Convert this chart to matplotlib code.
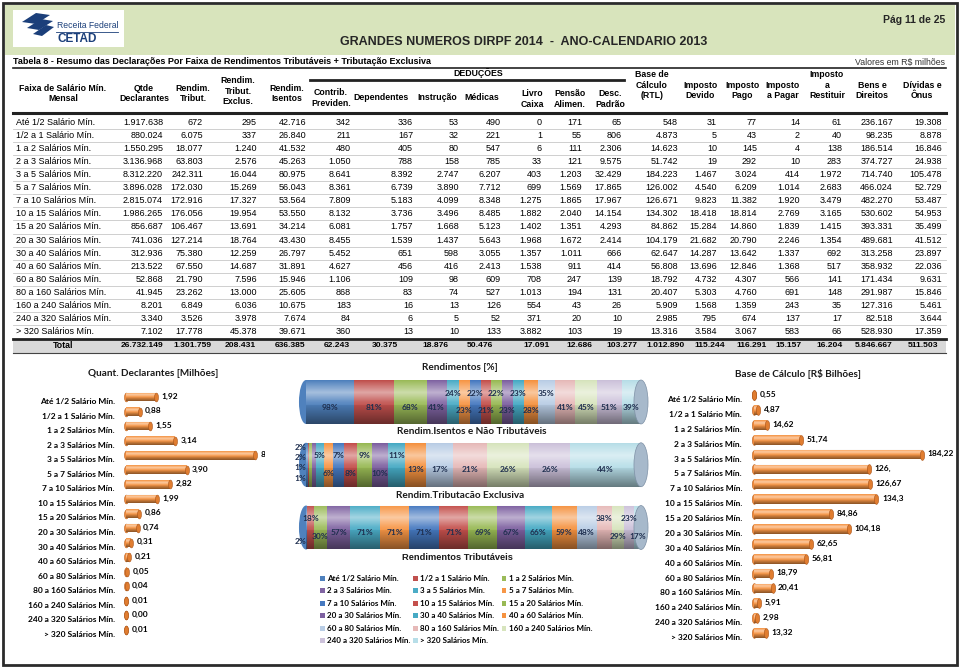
import numpy as np
import matplotlib
matplotlib.use("Agg")
import matplotlib.pyplot as plt
from matplotlib.patches import Rectangle, Ellipse, Polygon
from matplotlib.path import Path
from matplotlib.markers import MarkerStyle
import matplotlib.transforms as mtransforms

plt.rcParams["font.family"] = ["Liberation Sans", "DejaVu Sans"]
CHART_FONT = ["Lato", "DejaVu Sans"]

# ---- dados (Tabela 8) ----
faixas = ["Até 1/2 Salário Mín.", "1/2 a 1 Salário Mín.", "1 a 2 Salários Mín.", "2 a 3 Salários Mín.",
          "3 a 5 Salários Mín.", "5 a 7 Salários Mín.", "7 a 10 Salários Mín.", "10 a 15 Salários Mín.",
          "15 a 20 Salários Mín.", "20 a 30 Salários Mín.", "30 a 40 Salários Mín.", "40 a 60 Salários Mín.",
          "60 a 80 Salários Mín.", "80 a 160 Salários Mín.", "160 a 240 Salários Mín.",
          "240 a 320 Salários Mín.", "> 320 Salários Mín."]

qtde = [1917638, 880024, 1550295, 3136968, 8312220, 3896028, 2815074, 1986265, 856687, 741036, 312936, 213522, 52868, 41945, 8201, 3340, 7102]
rend_trib = [672, 6075, 18077, 63803, 242311, 172030, 172916, 176056, 106467, 127214, 75380, 67550, 21790, 23262, 6849, 3526, 17778]
rend_exclus = [295, 337, 1240, 2576, 16044, 15269, 17327, 19954, 13691, 18764, 12259, 14687, 7596, 13000, 6036, 3978, 45378]
rend_isentos = [42716, 26840, 41532, 45263, 80975, 56043, 53564, 53550, 34214, 43430, 26797, 31891, 15946, 25605, 10675, 7674, 39671]
contrib_prev = [342, 211, 480, 1050, 8641, 8361, 7809, 8132, 6081, 8455, 5452, 4627, 1106, 868, 183, 84, 360]
dependentes = [336, 167, 405, 788, 8392, 6739, 5183, 3736, 1757, 1539, 651, 456, 109, 83, 16, 6, 13]
instrucao = [53, 32, 80, 158, 2747, 3890, 4099, 3496, 1668, 1437, 598, 416, 98, 74, 13, 5, 10]
medicas = [490, 221, 547, 785, 6207, 7712, 8348, 8485, 5123, 5643, 3055, 2413, 609, 527, 126, 52, 133]
livro_caixa = [0, 1, 6, 33, 403, 699, 1275, 1882, 1402, 1968, 1357, 1538, 708, 1013, 554, 371, 3882]
pensao = [171, 55, 111, 121, 1203, 1569, 1865, 2040, 1351, 1672, 1011, 911, 247, 194, 43, 20, 103]
desc_padrao = [65, 806, 2306, 9575, 32429, 17865, 17967, 14154, 4293, 2414, 666, 414, 139, 131, 26, 10, 19]
base_calculo = [548, 4873, 14623, 51742, 184223, 126002, 126671, 134302, 84862, 104179, 62647, 56808, 18792, 20407, 5909, 2985, 13316]
imp_devido = [31, 5, 10, 19, 1467, 4540, 9823, 18418, 15284, 21682, 14287, 13696, 4732, 5303, 1568, 795, 3584]
imp_pago = [77, 43, 145, 292, 3024, 6209, 11382, 18814, 14860, 20790, 13642, 12846, 4307, 4760, 1359, 674, 3067]
imp_pagar = [14, 2, 4, 10, 414, 1014, 1920, 2769, 1839, 2246, 1337, 1368, 566, 691, 243, 137, 583]
imp_restituir = [61, 40, 138, 283, 1972, 2683, 3479, 3165, 1415, 1354, 692, 517, 141, 148, 35, 17, 66]
bens = [236167, 98235, 186514, 374727, 714740, 466024, 482270, 530602, 393331, 489681, 313258, 358932, 171434, 291987, 127316, 82518, 528930]
dividas = [19308, 8878, 16846, 24938, 105478, 52729, 53487, 54953, 35499, 41512, 23897, 22036, 9631, 15846, 5461, 3644, 17359]
totais = [26732149, 1301759, 208431, 636385, 62243, 30375, 18876, 50476, 17091, 12686, 103277, 1012890,
          115244, 116291, 15157, 16204, 5846667, 511503]

# percentuais mostrados nos cilindros
pct_isentos = [98, 81, 68, 41, 24, 23, 22, 21, 22, 23, 23, 28, 35, 41, 45, 51, 39]
pct_exclus = [1, 1, 2, 2, 5, 6, 7, 8, 9, 10, 11, 13, 17, 21, 26, 26, 44]
pct_trib = [2, 18, 30, 57, 71, 71, 71, 71, 69, 67, 66, 59, 48, 38, 29, 23, 17]

colunas = [qtde, rend_trib, rend_exclus, rend_isentos, contrib_prev, dependentes, instrucao, medicas,
           livro_caixa, pensao, desc_padrao, base_calculo, imp_devido, imp_pago, imp_pagar,
           imp_restituir, bens, dividas]

cores = ["#4f81bd", "#c0504d", "#9bbb59", "#8064a2", "#4bacc6", "#f79646",
         "#4679c0", "#c4504c", "#98b954", "#7d60a0", "#46aac4", "#f59240",
         "#b9cde5", "#e6b9b8", "#d7e4bd", "#ccc1da", "#b7dee8"]


def br(v):
    return f"{v:,}".replace(",", ".")


def rect(left, top, right, bottom):
    return [left / 960, 1 - bottom / 668, (right - left) / 960, (bottom - top) / 668]


def shade(ax, x0, x1, yc, h):
    t = np.linspace(0, 1, 60)
    light = np.clip(1 - np.abs(t - 0.28) / 0.28, 0, 1) * 0.5
    dark = np.clip((t - 0.5) / 0.5, 0, 1) * 0.45
    rgba = np.zeros((60, 1, 4))
    rgba[:, 0, :3] = np.where(light[:, None] > 0.001, 1.0, 0.0)
    rgba[:, 0, 3] = light + dark
    ax.imshow(rgba, extent=(x0, x1, yc + h / 2, yc - h / 2), aspect="auto",
              interpolation="bilinear", zorder=2.5)


fig = plt.figure(figsize=(9.6, 6.68), dpi=100)
page = fig.add_axes([0, 0, 1, 1])
page.set_xlim(0, 960)
page.set_ylim(668, 0)
page.axis("off")

# ---- cabeçalho ----
page.add_patch(Rectangle((5, 5), 950, 50, fc="#d8e4bc", ec="none"))
page.add_patch(Rectangle((3, 3), 954, 662, fill=False, lw=2, ec="#2b2b2b"))
page.add_patch(Rectangle((13, 10), 111, 37, fc="white", ec="none"))
navy = "#1b3f7a"
for pts in [[(22, 22), (36, 13), (50, 15), (36, 24)],
            [(27, 28), (41, 19), (53, 21), (39, 30)],
            [(33, 34), (46, 25), (54, 27), (42, 36)]]:
    page.add_patch(Polygon(pts, closed=True, fc=navy, ec="none"))
page.text(57, 25, "Receita Federal", fontsize=6.2, color=navy, va="center")
page.plot([56, 118], [31.5, 31.5], color=navy, lw=0.6)
page.text(57, 39, "CETAD", fontsize=8.5, color=navy, fontweight="bold", va="center")
page.text(524, 42, "GRANDES NUMEROS DIRPF 2014  -  ANO-CALENDARIO 2013", fontsize=9,
          fontweight="bold", color="#262626", ha="center", va="center")
page.text(945, 20, "Pág 11 de 25", fontsize=7.5, fontweight="bold", color="#262626",
          ha="right", va="center")

# ---- tabela ----
page.text(13, 62, "Tabela 8 - Resumo das Declarações Por Faixa de Rendimentos Tributáveis + Tributação Exclusiva",
          fontsize=6.5, fontweight="bold", va="center")
page.text(945, 62, "Valores em R$ milhões", fontsize=6.3, color="#333333", ha="right", va="center")

cabecalhos = [("Faixa de Salário Mín.\nMensal", 63, 93.5), ("Qtde\nDeclarantes", 144, 93.5),
              ("Rendim.\nTribut.", 193, 93.5), ("Rendim.\nTribut.\nExclus.", 238, 91),
              ("Rendim.\nIsentos", 287, 93.5), ("Contrib.\nPreviden.", 331, 98),
              ("Dependentes", 381, 98), ("Instrução", 437, 98), ("Médicas", 482, 98),
              ("Livro\nCaixa", 532, 99), ("Pensão\nAlimen.", 570, 99), ("Desc.\nPadrão", 610, 99),
              ("Base de\nCálculo\n(RTL)", 652, 85), ("Imposto\nDevido", 700, 90.5),
              ("Imposto\nPago", 742, 90.5), ("Imposto\na Pagar", 783, 90.5),
              ("Imposto\na\nRestituir", 827, 85), ("Bens e\nDireitos", 872, 90.5),
              ("Dívidas e\nÔnus", 922, 90.5)]
for txt, xc, yc in cabecalhos:
    page.text(xc, yc, txt, fontsize=6.3, fontweight="bold", ha="center", va="center",
              linespacing=1.25)
page.text(478, 73.5, "DEDUÇÕES", fontsize=6.3, fontweight="bold", ha="center", va="center")
page.plot([13, 946], [67.5, 67.5], color="#222222", lw=1.2)
page.plot([310, 624], [79.5, 79.5], color="#222222", lw=2)
page.plot([13, 946], [113, 113], color="#222222", lw=2.2)

col_right = [163, 203, 257, 306, 351, 413, 459, 501, 542, 582, 622, 678, 717, 757, 800, 842, 893, 942]
tot_right = [163, 212, 256, 305, 350, 398, 448, 493, 550, 592, 637, 685, 725, 767, 802, 843, 893, 938]
y0, dy = 122.5, 13.06
for i, faixa in enumerate(faixas):
    y = y0 + i * dy
    page.text(16, y, faixa, fontsize=6.5, ha="left", va="center")
    for c, col in enumerate(colunas):
        page.text(col_right[c], y, br(col[i]), fontsize=6.5, ha="right", va="center")
    if i < len(faixas) - 1:
        page.plot([13, 946], [y + dy / 2, y + dy / 2], color="#c8c8c8", lw=0.6)

page.add_patch(Rectangle((13, 339), 933, 13.5, fc="#d9d9d9", ec="none"))
page.plot([13, 946], [339, 339], color="#222222", lw=2)
page.plot([13, 946], [352.5, 352.5], color="#444444", lw=0.8)
page.text(63, 345.5, "Total", fontsize=6.3, fontweight="bold", ha="center", va="center")
for c, v in enumerate(totais):
    page.text(tot_right[c], 345.5, br(v), fontsize=6.1, fontweight="bold", ha="right", va="center")

# ---- graficos de barras ----
theta = np.linspace(0, 2 * np.pi, 40)
cap = MarkerStyle(Path(np.column_stack([0.45 * np.cos(theta), np.sin(theta)]), closed=True))


def barras(ax, vals, labels, xmax, h, capsize, pad, fmt, titulo, tx, ty, clip):
    ypos = np.arange(len(vals))
    ax.barh(ypos, vals, height=h, color="#f79646", edgecolor="none", zorder=2)
    for y, v in zip(ypos, vals):
        shade(ax, 0, v, y, h)
    ax.scatter(np.zeros(len(vals)), ypos, marker=cap, s=capsize, color="#f08a3c",
               edgecolor="#b75e1c", linewidth=0.4, zorder=1, clip_on=False)
    ax.scatter(vals, ypos, marker=cap, s=capsize, color="#e07d30",
               edgecolor="#a9541a", linewidth=0.4, zorder=3, clip_on=False)
    for y, v in zip(ypos, vals):
        ax.annotate(fmt(v), (v, y), xytext=(4, 0.5), textcoords="offset points",
                    fontsize=6, fontweight="bold", family=CHART_FONT, va="center",
                    ha="left", annotation_clip=False, clip_on=clip)
    ax.set_xlim(0, xmax)
    ax.set_ylim(len(vals) - 0.5, -0.5)
    ax.set_yticks(ypos)
    ax.set_yticklabels(labels, fontsize=6, fontweight="bold", family=CHART_FONT)
    ax.tick_params(axis="y", length=0, pad=pad)
    ax.set_xticks([])
    for s in ax.spines.values():
        s.set_visible(False)
    ax.patch.set_alpha(0)
    off = mtransforms.ScaledTranslation(0, -4 / 100, fig.dpi_scale_trans)
    for lab in ax.get_yticklabels():
        lab.set_transform(lab.get_transform() + off)
    page.text(tx, ty, titulo, fontsize=7.2, fontweight="bold", family=CHART_FONT,
              ha="center", va="center", color="#1a1a1a")


axL = fig.add_axes(rect(126, 389.7, 265, 637.3))
barras(axL, np.array(qtde) / 1e6, faixas, (265 - 126) / 15.55, 0.6, 40, 8,
       lambda v: f"{v:.2f}".replace(".", ","), "Quant. Declarantes [Milhões]", 153, 373, True)

axR = fig.add_axes(rect(754, 387.6, 950, 640.5))
barras(axR, np.array(base_calculo) / 1000, faixas, (950 - 754) / 0.912, 0.65, 49, 8.6,
       lambda v: f"{v:.2f}".rstrip("0").replace(".", ","), "Base de Cálculo [R$ Bilhões]", 798, 374,
       False)

# ---- cilindros empilhados ----
axM = fig.add_axes(rect(306, 370.6, 641, 558.9))
linhas = [pct_isentos, pct_exclus, pct_trib]
larguras = [np.array(p) / np.sum(p) * 100 for p in linhas]
for k in range(len(faixas)):
    lefts = [np.sum(w[:k]) for w in larguras]
    axM.barh([0, 1, 2], [w[k] for w in larguras], left=lefts, height=0.7, color=cores[k],
             edgecolor="none", label=faixas[k], zorder=2)
tiny_y = [0.22, 0.05, -0.12, -0.28]
for r, (pcts, w) in enumerate(zip(linhas, larguras)):
    axM.add_patch(Ellipse((0, r), 4.2, 0.7, fc=cores[0], ec="none", zorder=1, clip_on=False))
    shade(axM, 0, 100, r, 0.7)
    axM.add_patch(Ellipse((100, r), 4.2, 0.7, fc="#a7b9cb", ec="#7d90a5", lw=0.5, zorder=3,
                          clip_on=False))
    left, flip, nt = 0.0, 1, 0
    for k, p in enumerate(pcts):
        xc = left + w[k] / 2
        if w[k] < 2:
            xc, yo = -1.6, tiny_y[nt % 4]
            nt += 1
        elif w[k] < 5.5:
            yo = -0.14 * flip
            flip = -flip
        else:
            yo = 0.08
        axM.text(xc, r + yo, f"{p}%", fontsize=6, fontweight="bold", family=CHART_FONT,
                 color="#1f2f4f", ha="center", va="center", zorder=4, clip_on=False)
        left += w[k]
axM.set_xlim(0, 100)
axM.set_ylim(2.5, -0.5)
axM.axis("off")

page.text(460, 368, "Rendimentos [%]", fontsize=7.2, fontweight="bold", family=CHART_FONT,
          ha="center", va="center", color="#1a1a1a")
page.text(472, 432, "Rendim.Isentos e Não Tributáveis", fontsize=7.2, fontweight="bold",
          family=CHART_FONT, ha="center", va="center", color="#1a1a1a")
page.text(460, 495, "Rendim.Tributacão Exclusiva", fontsize=7.2, fontweight="bold",
          family=CHART_FONT, ha="center", va="center", color="#1a1a1a")
page.text(457, 557, "Rendimentos Tributáveis", fontsize=6.7, fontweight="bold",
          ha="center", va="center", color="#1a1a1a")

handles, labels = axM.get_legend_handles_labels()
ordem = [0, 3, 6, 9, 12, 15, 1, 4, 7, 10, 13, 16, 2, 5, 8, 11, 14]
leg = fig.legend([handles[i] for i in ordem], [labels[i] for i in ordem], loc="upper left",
                 bbox_to_anchor=(320 / 960, 1 - 575 / 668), ncol=3, frameon=False,
                 prop={"family": CHART_FONT, "weight": "bold", "size": 5.8},
                 handlelength=0.6, handleheight=0.6, handletextpad=0.3, columnspacing=0.3,
                 labelspacing=0.68, borderpad=0, borderaxespad=0)

fig.savefig("out.png", dpi=100)
